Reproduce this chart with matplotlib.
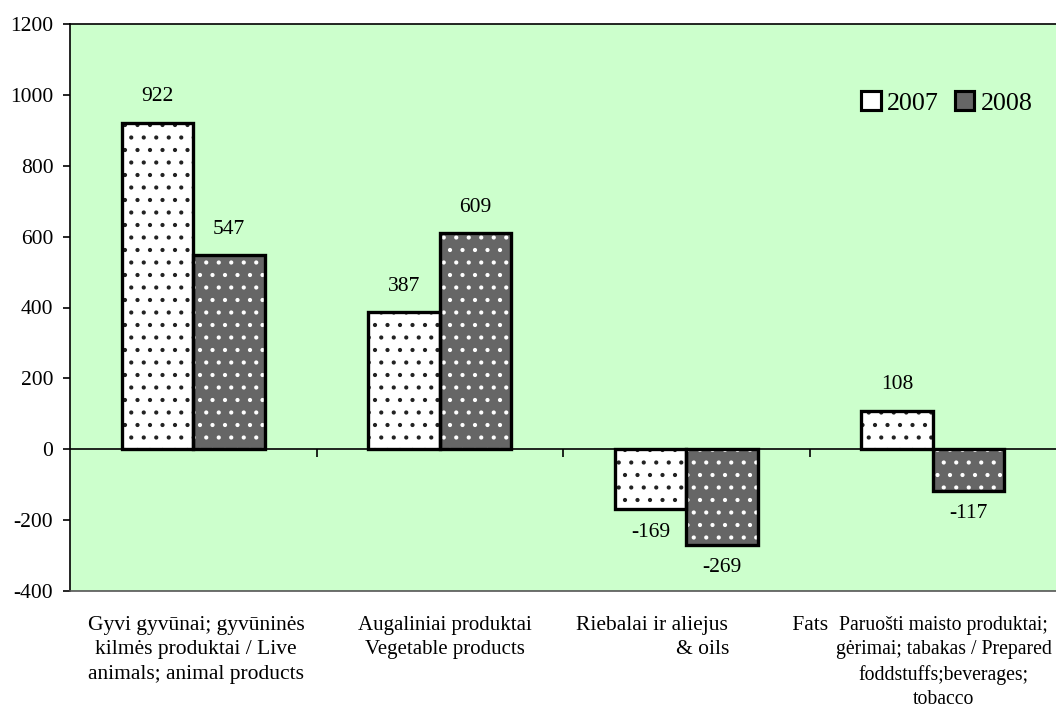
import numpy as np
import matplotlib.pyplot as plt
from matplotlib.patches import Patch
from matplotlib.transforms import ScaledTranslation

plt.rcParams['font.family'] = ['Liberation Serif', 'DejaVu Serif']
plt.rcParams['hatch.linewidth'] = 0.8
plt.rcParams['axes.unicode_minus'] = False

# duomenys
categories = [
    "Gyvi gyvūnai; gyvūninės\nkilmės produktai / Live\nanimals; animal products",
    "Augaliniai produktai\nVegetable products",
    "Riebalai ir aliejus            Fats\n& oils",
    "Paruošti maisto produktai;\ngėrimai; tabakas / Prepared\nfoddstuffs;beverages;\ntobacco",
]
years = ["2007", "2008"]
values_2007 = [922, 387, -169, 108]
values_2008 = [547, 609, -269, -117]

DPI = 150
fig = plt.figure(figsize=(1056 / DPI, 713 / DPI), dpi=DPI)
ax = fig.add_axes([70 / 1056, (713 - 591) / 713, 986 / 1056, 567 / 713])
ax.set_facecolor('#CCFFCC')

x = np.arange(len(categories))
w = 0.29

# 2007 - balti su taškais
ax.bar(x - w / 2, values_2007, w, color='white', edgecolor='#222222', hatch='..', lw=0, zorder=2)
ax.bar(x - w / 2, values_2007, w, facecolor='none', edgecolor='black', lw=1.6, zorder=3)
# 2008 - pilki su baltais taškais
ax.bar(x + w / 2, values_2008, w, color='#666666', edgecolor='white', hatch='..', lw=0, zorder=2)
ax.bar(x + w / 2, values_2008, w, facecolor='none', edgecolor='black', lw=1.6, zorder=3)

# reikšmės
for i in range(len(categories)):
    for xx, v in [(x[i] - w / 2, values_2007[i]), (x[i] + w / 2, values_2008[i])]:
        off = 12.5 if v > 0 else -11
        ax.annotate(str(v), (xx, v), xytext=(0, off), textcoords='offset points',
                    ha='center', va='center', fontsize=10.3)

ax.axhline(0, color='black', lw=0.8, zorder=4)
# žymos ant nulinės ašies tarp kategorijų
ax.plot(x[:-1] + 0.5, np.zeros(len(x) - 1), ls='none', marker=3, ms=4,
        color='black', mew=0.8, zorder=4)

ax.set_xlim(-0.5, len(categories) - 0.5)
ax.set_ylim(-400, 1200)
ax.set_yticks(np.arange(-400, 1201, 200))
ax.tick_params(axis='y', labelsize=10.3, length=3.5, width=0.8, pad=4.5)
ax.set_xticks(x)
ax.set_xticklabels(categories, fontsize=10.3, linespacing=1.38)
ax.tick_params(axis='x', length=0, pad=12)

# nedidelis etikečių poslinkis į dešinę (px) ir dydžiai
shifts = [3, 5, 16, 11]
sizes = [10.3, 10.0, 10.3, 9.5]
for lbl, s, fs in zip(ax.get_xticklabels(), shifts, sizes):
    lbl.set_fontsize(fs)
    lbl.set_transform(lbl.get_transform() + ScaledTranslation(s / DPI, 0, fig.dpi_scale_trans))

ax.spines['right'].set_visible(False)
ax.spines['top'].set_color('black')
ax.spines['left'].set_linewidth(0.8)
ax.spines['top'].set_linewidth(0.8)
ax.spines['bottom'].set_color('#555555')
ax.spines['bottom'].set_linewidth(0.8)

handles = [Patch(facecolor='white', edgecolor='black', lw=1.5),
           Patch(facecolor='#666666', edgecolor='black', lw=1.5)]
ax.legend(handles, years, loc='center right', bbox_to_anchor=(1.0, 0.861),
          frameon=False, fontsize=12.5, handlelength=0.75, handleheight=0.75,
          handletextpad=0.25, columnspacing=0.6, ncol=2)

fig.savefig('out.png', dpi=DPI)
